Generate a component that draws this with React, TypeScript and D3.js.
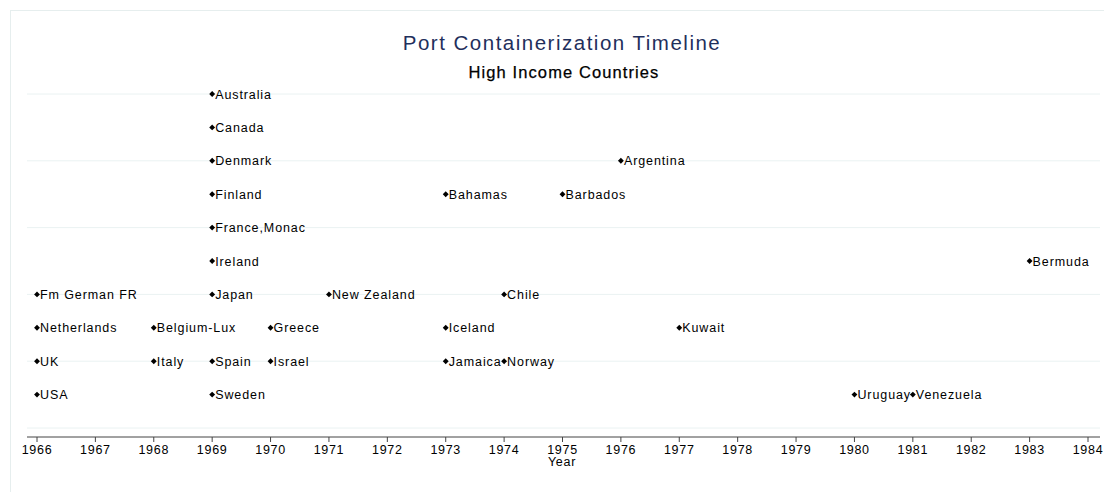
import React from "react";
import * as d3 from "d3";

const countries = ["Fm German FR","Netherlands","UK","USA","Belgium-Lux","Italy","Australia","Canada","Denmark","Finland","France,Monac","Ireland","Japan","Spain","Sweden","Greece","Israel","New Zealand","Bahamas","Iceland","Jamaica","Chile","Norway","Barbados","Argentina","Kuwait","Uruguay","Venezuela","Bermuda"];
const years = [1966,1966,1966,1966,1968,1968,1969,1969,1969,1969,1969,1969,1969,1969,1969,1970,1970,1971,1973,1973,1973,1974,1974,1975,1976,1977,1980,1981,1983];
const rows = [4,3,2,1,3,2,10,9,8,7,6,5,4,2,1,3,2,4,7,3,2,4,2,7,8,3,1,1,5];
const xTicks = d3.range(1966, 1985);
const yGrid = [0,2,4,6,8,10];

export default function App() {
  const W = 1104, H = 492;
  const x = d3.scaleLinear().domain([1966, 1984]).range([37, 1088]);
  const y = d3.scaleLinear().domain([0, 10]).range([428, 94]);
  const axisY = 437;
  const font = "Arial, 'Liberation Sans', sans-serif";
  const diamond = d3.symbol().type(d3.symbolDiamond2).size(22)() as string;
  return (
    <svg width={W} height={H} style={{ position: "absolute", left: 0, top: 0, background: "#fff" }}>
      <rect x={10.5} y={10.5} width={W} height={H} fill="#fff" stroke="#e6eeee" />
      {yGrid.map(g => (
        <line key={g} x1={27} x2={1100} y1={y(g)} y2={y(g)} stroke="#eaf2f2" strokeWidth={1} />
      ))}
      <text x={562} y={50} textAnchor="middle" fontFamily={font} fontSize={20.5} letterSpacing={1.5} fill="#1f2f5c">Port Containerization Timeline</text>
      <text x={564} y={77.5} textAnchor="middle" fontFamily={font} fontSize={16.5} letterSpacing={1.1} stroke="#000" strokeWidth={0.25} fill="#000">High Income Countries</text>
      <line x1={27} x2={1100} y1={axisY} y2={axisY} stroke="#444" strokeWidth={1} />
      {xTicks.map(t => (
        <g key={t}>
          <line x1={x(t)} x2={x(t)} y1={axisY} y2={axisY + 5} stroke="#444" />
          <text x={x(t)} y={axisY + 17} textAnchor="middle" fontFamily={font} fontSize={12.5} letterSpacing={0.7} fill="#000">{t}</text>
        </g>
      ))}
      <text x={562} y={axisY + 29} textAnchor="middle" fontFamily={font} fontSize={12.5} letterSpacing={0.7} fill="#000">Year</text>
      {countries.map((c, i) => (
        <g key={c} transform={`translate(${x(years[i])},${y(rows[i])})`}>
          <path d={diamond} fill="#000" />
          <text x={3} y={4.5} fontFamily={font} fontSize={12.5} letterSpacing={0.9} fill="#000">{c}</text>
        </g>
      ))}
    </svg>
  );
}
